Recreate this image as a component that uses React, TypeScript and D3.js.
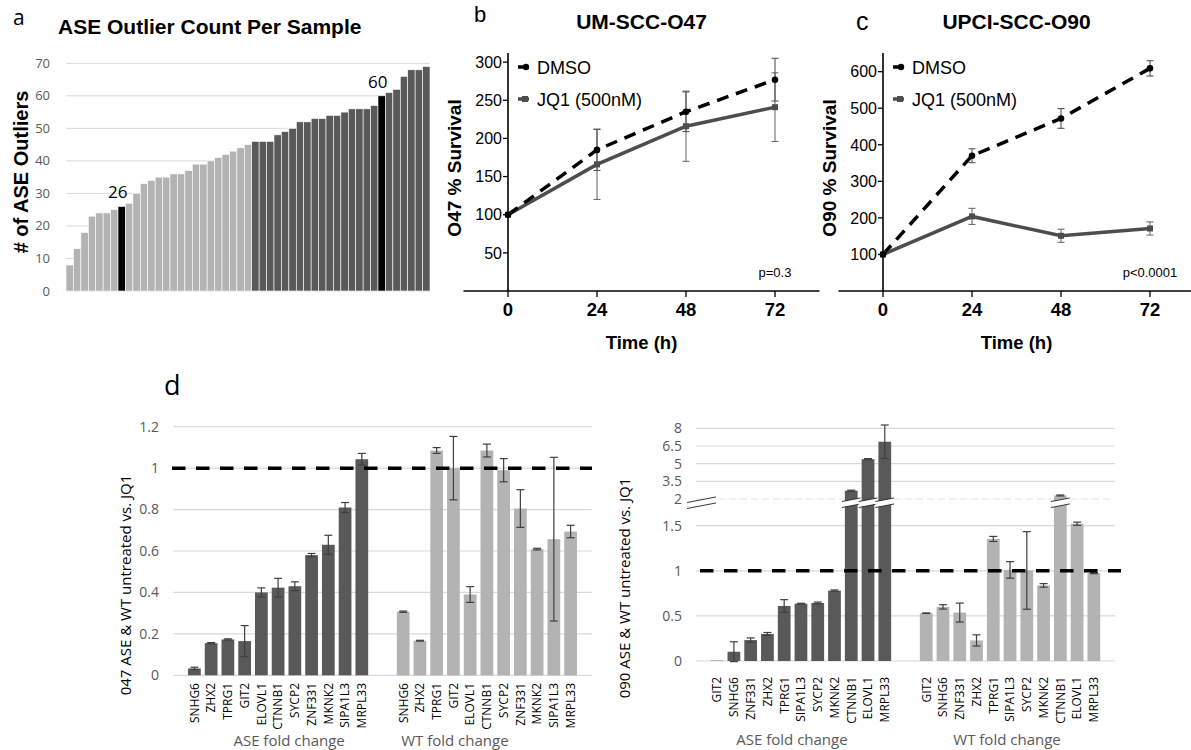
import React from 'react';
import * as d3 from 'd3';

// panel a: outlier count per sample, sorted
const sampleCounts = [
  8, 13, 18, 23, 24, 24, 25, 26, 27, 30, 33, 34, 35, 35, 36, 36, 37, 39, 39, 40, 41, 42, 43, 44, 45,
  46, 46, 46, 48, 49, 50, 52, 52, 53, 53, 54, 54, 55, 56, 56, 56, 57, 60, 61, 62, 66, 68, 68, 69,
];
const lowGroupSize = 25;
const calledOut = [26, 60];
const countTicks = [0, 10, 20, 30, 40, 50, 60, 70];

// panels b, c: survival over time
const hours = [0, 24, 48, 72];
const o47Dmso = [100, 185, 235, 277];
const o47DmsoErr = [0, 27, 26, 28];
const o47Jq1 = [100, 166, 216, 241];
const o47Jq1Err = [0, 46, 46, 45];
const o47Ticks = [50, 100, 150, 200, 250, 300];

const o90Dmso = [100, 370, 472, 609];
const o90DmsoErr = [0, 19, 27, 21];
const o90Jq1 = [100, 204, 151, 171];
const o90Jq1Err = [0, 22, 18, 18];
const o90Ticks = [100, 200, 300, 400, 500, 600];

// panel d: fold changes
const groups = ['ASE fold change', 'WT fold change'];

const o47Genes = ['SNHG6', 'ZHX2', 'TPRG1', 'GIT2', 'ELOVL1', 'CTNNB1', 'SYCP2', 'ZNF331', 'MKNK2', 'SIPA1L3', 'MRPL33'];
const o47Ase = [0.033, 0.155, 0.173, 0.165, 0.4, 0.423, 0.43, 0.58, 0.63, 0.81, 1.043];
const o47AseErr = [0.006, 0.003, 0.003, 0.075, 0.022, 0.045, 0.021, 0.008, 0.046, 0.024, 0.028];
const o47Wt = [0.307, 0.167, 1.085, 1.0, 0.39, 1.085, 0.99, 0.805, 0.609, 0.657, 0.694];
const o47WtErr = [0.003, 0.002, 0.014, 0.153, 0.038, 0.031, 0.056, 0.091, 0.004, 0.395, 0.03];
const o47YTicks = [0, 0.2, 0.4, 0.6, 0.8, 1, 1.2];

const o90Genes = ['GIT2', 'SNHG6', 'ZNF331', 'ZHX2', 'TPRG1', 'SIPA1L3', 'SYCP2', 'MKNK2', 'CTNNB1', 'ELOVL1', 'MRPL33'];
const o90Ase = [0.004, 0.103, 0.232, 0.3, 0.61, 0.636, 0.643, 0.78, 2.7, 5.38, 6.86];
const o90AseErr = [0, 0.11, 0.024, 0.016, 0.07, 0.004, 0.01, 0.008, 0.05, 0.05, 1.42];
const o90Wt = [0.53, 0.6, 0.537, 0.228, 1.353, 1.01, 1.004, 0.838, 2.3, 1.537, 0.974];
const o90WtErr = [0.003, 0.024, 0.105, 0.062, 0.028, 0.092, 0.43, 0.02, 0.04, 0.03, 0.006];
const o90YTicks = [0, 0.5, 1, 1.5, 2, 3.5, 5, 6.5, 8];
const o90Break = 2;

const ARIAL = '"Liberation Sans", Arial, sans-serif';
const SANS = '"Open Sans", "Noto Sans", sans-serif';
const GRID = '#d9d9d9';
const DARK = '#595959';
const LIGHT = '#b3b3b3';

function PanelA() {
  const x = d3.scaleBand<number>().domain(d3.range(sampleCounts.length)).range([66, 430]);
  const y = d3.scaleLinear().domain([0, 70]).range([291, 63.3]);
  const isCalled = (v: number, i: number) => calledOut.includes(v) && (i === 7 || i === 42);
  return (
    <g>
      <text x={13} y={25} fontSize={21} fontFamily={SANS}>a</text>
      <text x={58} y={34} fontSize={21} fontWeight="bold" fontFamily={ARIAL}>ASE Outlier Count Per Sample</text>
      {countTicks.map((t) => (
        <g key={t}>
          <line x1={66} x2={430} y1={y(t)} y2={y(t)} stroke={GRID} strokeWidth={1} />
          <text x={50} y={y(t)} dy="0.35em" textAnchor="end" fontSize={13} fill={DARK} fontFamily={SANS}>{t}</text>
        </g>
      ))}
      {sampleCounts.map((v, i) => {
        const fill = isCalled(v, i) ? '#000' : i < lowGroupSize ? LIGHT : DARK;
        return (
          <rect key={i} x={x(i)} y={y(v)} width={x.bandwidth()} height={y(0) - y(v)} fill={fill}
            stroke="#fff" strokeWidth={0.6} />
        );
      })}
      {sampleCounts.map((v, i) =>
        isCalled(v, i) ? (
          <text key={'l' + i} x={(x(i) as number) + x.bandwidth() / 2 - 4} y={y(v) - 8} textAnchor="middle"
            fontSize={17} fontFamily={SANS}>{v}</text>
        ) : null
      )}
      <text transform={`translate(28,172) rotate(-90)`} textAnchor="middle" fontSize={20} fontWeight="bold"
        fontFamily={ARIAL}># of ASE Outliers</text>
    </g>
  );
}

type GrowthProps = {
  x0: number; yMax: number; yTicks: number[]; yLabel: string; title: string;
  letter: string; letterX: number; letterY: number; letterSize: number;
  dmso: number[]; dmsoErr: number[]; jq1: number[]; jq1Err: number[]; pText: string;
};

function GrowthPanel(p: GrowthProps) {
  const x = d3.scaleLinear().domain([0, 72]).range([p.x0, p.x0 + 267]);
  const y = d3.scaleLinear().domain([0, p.yMax]).range([291, 53]);
  const line = d3.line<number>().x((_, i) => x(hours[i])).y((d) => y(d));
  const mid = x(36);
  const errs = (vals: number[], err: number[], col: string, k: string) =>
    vals.map((v, i) =>
      err[i] > 0 ? (
        <g key={k + i} stroke={col} strokeWidth={1.1}>
          <line x1={x(hours[i])} x2={x(hours[i])} y1={y(v - err[i])} y2={y(v + err[i])} />
          <line x1={x(hours[i]) - 3.5} x2={x(hours[i]) + 3.5} y1={y(v - err[i])} y2={y(v - err[i])} />
          <line x1={x(hours[i]) - 3.5} x2={x(hours[i]) + 3.5} y1={y(v + err[i])} y2={y(v + err[i])} />
        </g>
      ) : null
    );
  return (
    <g fontFamily={ARIAL}>
      <text x={p.letterX} y={p.letterY} fontSize={p.letterSize}>{p.letter}</text>
      <text x={mid} y={29} textAnchor="middle" fontSize={21} fontWeight="bold">{p.title}</text>
      {/* axes */}
      <line x1={x(-12)} x2={Math.min(x(84), 1191)} y1={y(0)} y2={y(0)} stroke="#000" strokeWidth={1.6} />
      <line x1={x(0)} x2={x(0)} y1={53} y2={y(0)} stroke="#000" strokeWidth={1.6} />
      {p.yTicks.map((t) => (
        <g key={t}>
          <line x1={x(0) - 5} x2={x(0)} y1={y(t)} y2={y(t)} stroke="#000" strokeWidth={1.3} />
          <text x={x(0) - 6} y={y(t)} dy="0.36em" textAnchor="end" fontSize={16}>{t}</text>
        </g>
      ))}
      {hours.map((h) => (
        <g key={h}>
          <line x1={x(h)} x2={x(h)} y1={y(0)} y2={y(0) + 6} stroke="#000" strokeWidth={1.3} />
          <text x={x(h)} y={316} textAnchor="middle" fontSize={18.5} fontWeight="bold">{h}</text>
        </g>
      ))}
      <text x={mid} y={349} textAnchor="middle" fontSize={18.5} fontWeight="bold">Time (h)</text>
      <text transform={`translate(${x(0) - 47},168) rotate(-90)`} textAnchor="middle" fontSize={19}
        fontWeight="bold">{p.yLabel}</text>
      {/* series */}
      <path d={line(p.jq1) as string} fill="none" stroke="#4d4d4d" strokeWidth={3.5} />
      <path d={line(p.dmso) as string} fill="none" stroke="#000" strokeWidth={3.5} strokeDasharray="12,8" />
      {errs(p.jq1, p.jq1Err, '#6e6e6e', 'j')}
      {errs(p.dmso, p.dmsoErr, '#555', 'd')}
      {p.jq1.map((v, i) => (
        <rect key={'js' + i} x={x(hours[i]) - 3} y={y(v) - 3} width={6} height={6} fill="#4d4d4d" />
      ))}
      {p.dmso.map((v, i) => (
        <circle key={'dc' + i} cx={x(hours[i])} cy={y(v)} r={3.3} fill="#000" />
      ))}
      {/* legend */}
      <line x1={x(0) + 10} x2={x(0) + 15} y1={67} y2={67} stroke="#000" strokeWidth={3.5} />
      <circle cx={x(0) + 18} cy={67} r={3.2} fill="#000" />
      <text x={x(0) + 29} y={73.5} fontSize={18}>DMSO</text>
      <line x1={x(0) + 10} x2={x(0) + 21} y1={99} y2={99} stroke="#4d4d4d" strokeWidth={3.5} />
      <rect x={x(0) + 14} y={96} width={6} height={6} fill="#4d4d4d" />
      <text x={x(0) + 29} y={105.5} fontSize={18}>JQ1 (500nM)</text>
      <text x={x(72)} y={277} textAnchor="middle" fontSize={13}>{p.pText}</text>
    </g>
  );
}

type FoldProps = {
  range: [number, number];
  y: (v: number) => number;
  ticks: number[];
  genes: string[];
  ase: number[]; aseErr: number[]; wt: number[]; wtErr: number[];
  labelTop: number; groupY: number; groupShift: number[];
  yLabel: string; yLabelX: number; yLabelY: number; tickX: number; refStart: number; refEnd: number;
  breakAt?: number;
};

function FoldChart(p: FoldProps) {
  const x0 = d3.scaleBand<string>().domain(groups).range(p.range).paddingInner(0.118).paddingOuter(0.061);
  const x1 = d3.scaleBand<string>().domain(p.genes).range([0, x0.bandwidth()]).paddingInner(0.24).paddingOuter(0.12);
  const series = [
    { g: groups[0], vals: p.ase, err: p.aseErr, fill: DARK },
    { g: groups[1], vals: p.wt, err: p.wtErr, fill: LIGHT },
  ];
  const bw = x1.bandwidth();
  const y0 = p.y(0);
  return (
    <g fontFamily={SANS}>
      {p.ticks.map((t) => (
        <g key={t}>
          <line x1={p.range[0]} x2={p.range[1]} y1={p.y(t)} y2={p.y(t)}
            stroke={t === p.breakAt ? '#e4e4e4' : GRID} strokeWidth={1.2}
            strokeDasharray={t === p.breakAt ? '7,4' : undefined} />
          <text x={p.tickX} y={p.y(t)} dy="0.35em" textAnchor="end" fontSize={14} fill={DARK}>{t}</text>
        </g>
      ))}
      {series.map((s) =>
        s.vals.map((v, i) => {
          const bx = (x0(s.g) as number) + (x1(p.genes[i]) as number);
          return <rect key={s.g + i} x={bx} y={p.y(v)} width={bw} height={y0 - p.y(v)} fill={s.fill} />;
        })
      )}
      {series.map((s) =>
        s.vals.map((v, i) => {
          if (s.err[i] <= 0) return null;
          const cx = (x0(s.g) as number) + (x1(p.genes[i]) as number) + bw / 2;
          const lo = p.y(v - s.err[i]);
          const hi = p.y(v + s.err[i]);
          return (
            <g key={'e' + s.g + i} stroke="#3f3f3f" strokeWidth={1.2}>
              <line x1={cx} x2={cx} y1={lo} y2={hi} />
              <line x1={cx - 4} x2={cx + 4} y1={lo} y2={lo} />
              <line x1={cx - 4} x2={cx + 4} y1={hi} y2={hi} />
            </g>
          );
        })
      )}
      <line x1={p.refStart} x2={p.refEnd} y1={p.y(1)} y2={p.y(1)} stroke="#000" strokeWidth={3.5}
        strokeDasharray="13.5,10.5" />
      {p.breakAt !== undefined &&
        series.map((s) =>
          s.vals.map((v, i) => {
            if (v <= (p.breakAt as number)) return null;
            const bx = (x0(s.g) as number) + (x1(p.genes[i]) as number);
            const cy = p.y(1.93);
            const xa = bx - 3, xb = bx + bw + 3;
            const cx = bx + bw / 2;
            const sl = -0.19;
            const yA = (dx: number, off: number) => cy + off + sl * dx;
            return (
              <g key={'b' + s.g + i}>
                <polygon fill="#fff"
                  points={`${xa},${yA(xa - cx, -3)} ${xb},${yA(xb - cx, -3)} ${xb},${yA(xb - cx, 3)} ${xa},${yA(xa - cx, 3)}`} />
                <line x1={xa} x2={xb} y1={yA(xa - cx, -3)} y2={yA(xb - cx, -3)} stroke="#222" strokeWidth={0.9} />
                <line x1={xa} x2={xb} y1={yA(xa - cx, 3)} y2={yA(xb - cx, 3)} stroke="#222" strokeWidth={0.9} />
              </g>
            );
          })
        )}
      {p.breakAt !== undefined && (
        <g stroke="#222" strokeWidth={0.9}>
          <polygon fill="#fff" stroke="none"
            points={`${p.range[0] - 9},${p.y(1.93) - 3 + 2.8} ${p.range[0] + 20},${p.y(1.93) - 3 - 2.8} ${p.range[0] + 20},${p.y(1.93) + 3 - 2.8} ${p.range[0] - 9},${p.y(1.93) + 3 + 2.8}`} />
          <line x1={p.range[0] - 9} x2={p.range[0] + 20} y1={p.y(1.93) - 3 + 2.8} y2={p.y(1.93) - 3 - 2.8} />
          <line x1={p.range[0] - 9} x2={p.range[0] + 20} y1={p.y(1.93) + 3 + 2.8} y2={p.y(1.93) + 3 - 2.8} />
        </g>
      )}
      {series.map((s) =>
        p.genes.map((g) => {
          const cx = (x0(s.g) as number) + (x1(g) as number) + bw / 2;
          return (
            <text key={'t' + s.g + g} transform={`translate(${cx},${p.labelTop}) rotate(-90)`} textAnchor="end"
              dy="0.36em" fontSize={12} fill="#000">{g}</text>
          );
        })
      )}
      {groups.map((g, i) => (
        <text key={g} x={(x0(g) as number) + x0.bandwidth() / 2 + p.groupShift[i]} y={p.groupY}
          textAnchor="middle" fontSize={15} fill={DARK}>{g}</text>
      ))}
      <text transform={`translate(${p.yLabelX},${p.yLabelY}) rotate(-90)`} textAnchor="middle" fontSize={15}
        fill="#000">{p.yLabel}</text>
    </g>
  );
}

export default function App() {
  const yLeft = d3.scaleLinear().domain([0, 1.2]).range([675.3, 426.7]);
  const yRight = d3.scaleLinear().domain([0, 1.5, 2, 8]).range([661, 525.7, 499, 428.3]);
  return (
    <svg width={1191} height={750} style={{ position: 'absolute', left: 0, top: 0, background: '#fff' }}>
      <rect width={1191} height={750} fill="#fff" />
      <PanelA />
      <GrowthPanel x0={508} yMax={312} yTicks={o47Ticks} yLabel="O47 % Survival" title="UM-SCC-O47" letter="b"
        letterX={474} letterY={22} letterSize={22} dmso={o47Dmso} dmsoErr={o47DmsoErr} jq1={o47Jq1}
        jq1Err={o47Jq1Err} pText="p=0.3" />
      <GrowthPanel x0={883} yMax={651} yTicks={o90Ticks} yLabel="O90 % Survival" title="UPCI-SCC-O90" letter="c"
        letterX={856} letterY={30} letterSize={25} dmso={o90Dmso} dmsoErr={o90DmsoErr} jq1={o90Jq1}
        jq1Err={o90Jq1Err} pText="p<0.0001" />
      <text x={164} y={395} fontSize={27} fontFamily={SANS}>d</text>
      <FoldChart range={[173.3, 591.7]} y={yLeft} ticks={o47YTicks} genes={o47Genes} ase={o47Ase} aseErr={o47AseErr}
        wt={o47Wt} wtErr={o47WtErr} labelTop={683} groupY={746} groupShift={[11, -32]}
        yLabel="047 ASE & WT untreated vs. JQ1" yLabelX={131} yLabelY={585} tickX={159}
        refStart={172} refEnd={592} />
      <FoldChart range={[696, 1115]} y={yRight} ticks={o90YTicks} genes={o90Genes} ase={o90Ase} aseErr={o90AseErr}
        wt={o90Wt} wtErr={o90WtErr} labelTop={677} groupY={745} groupShift={[-9, -3]}
        yLabel="090 ASE & WT untreated vs. JQ1" yLabelX={630} yLabelY={588} tickX={682}
        refStart={700} refEnd={1121} breakAt={o90Break} />
    </svg>
  );
}
